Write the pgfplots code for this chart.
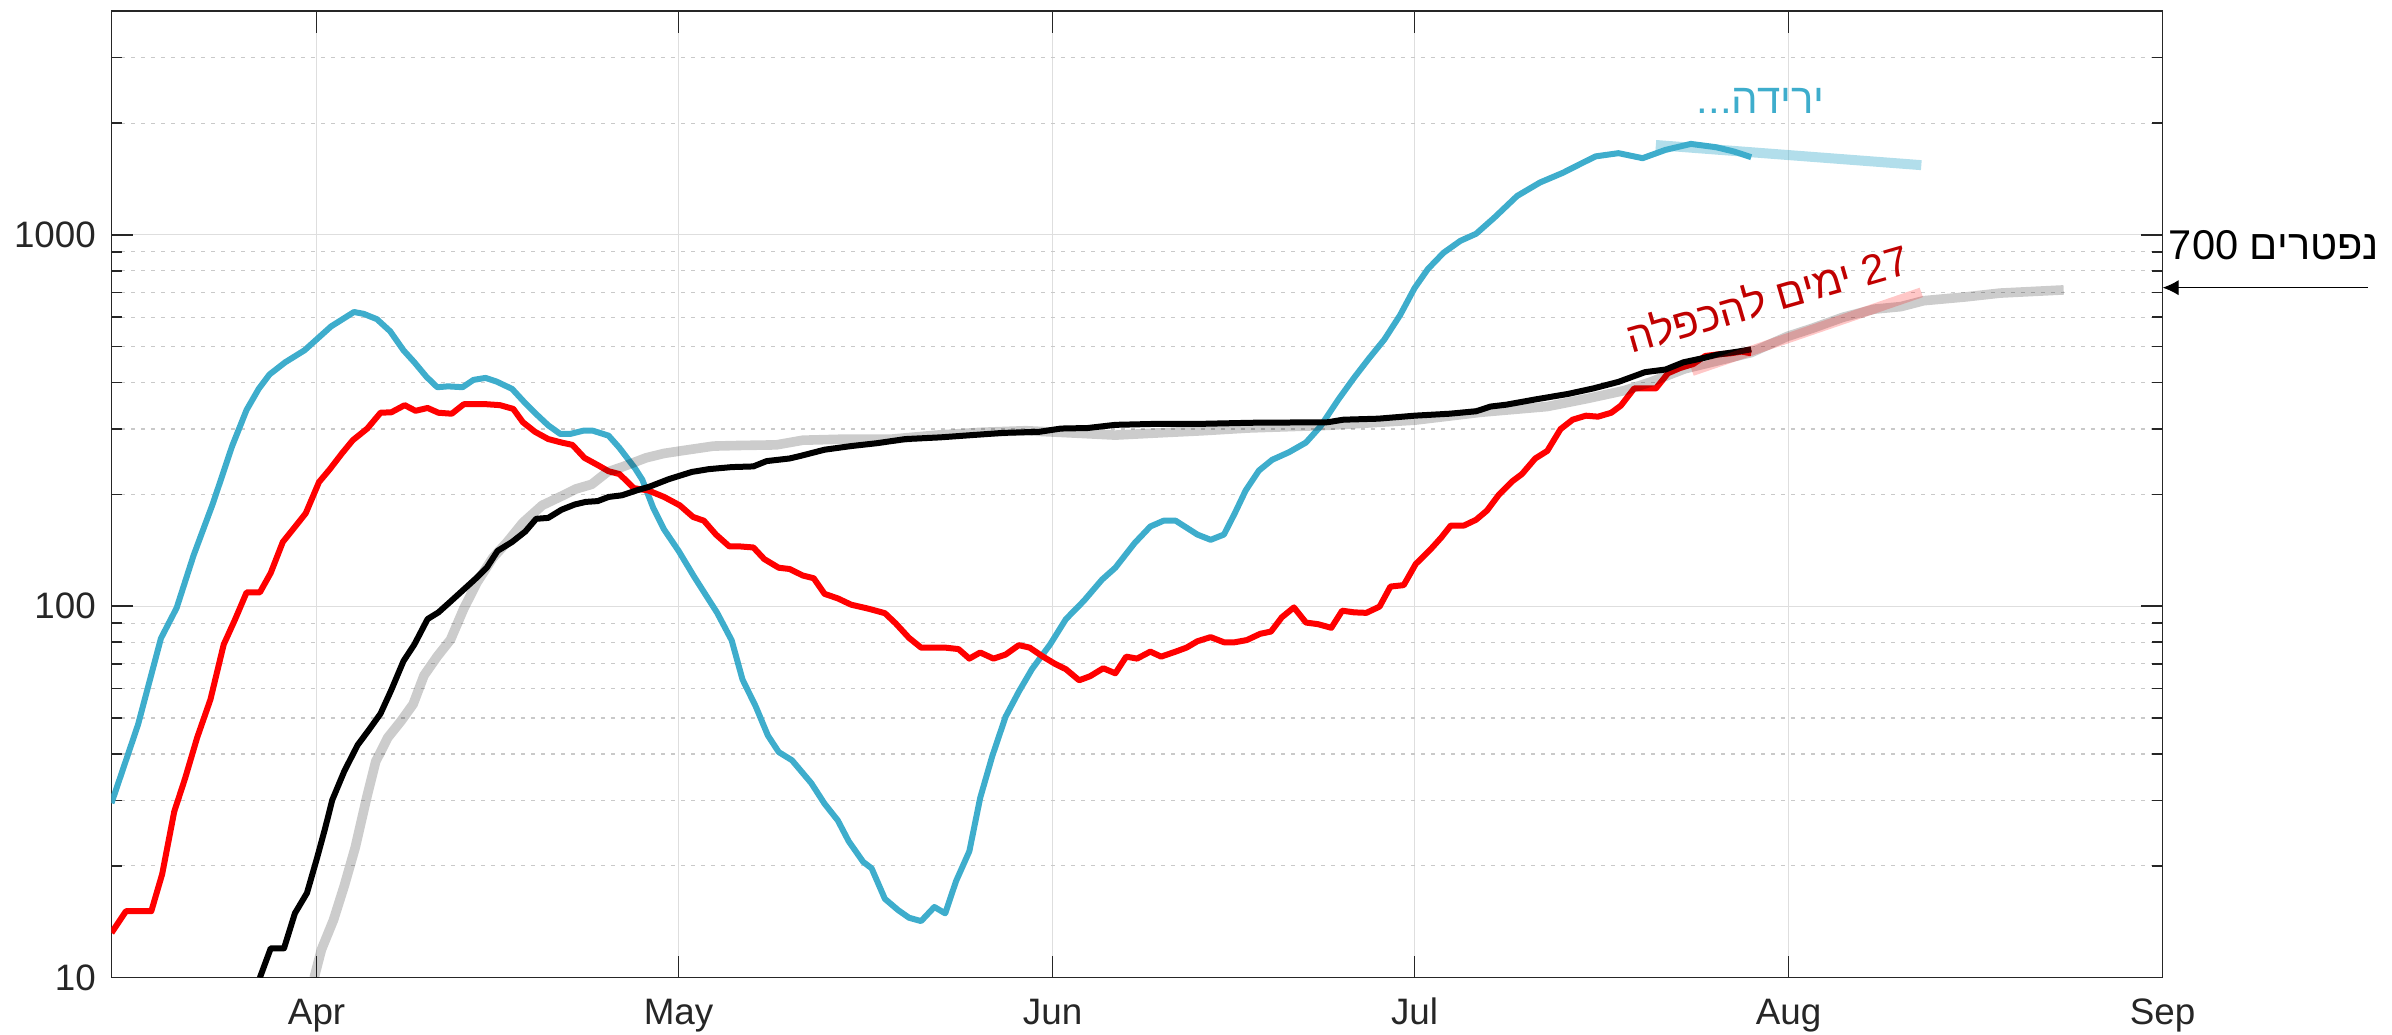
\documentclass[border=0pt]{standalone}
\usepackage{fontspec}
\setmainfont{Liberation Sans}
\newfontfamily\hebfont[Script=Hebrew]{Liberation Sans}
\usepackage{pgfplots}
\pgfplotsset{compat=1.18}
\usetikzlibrary{arrows.meta}
\TeXXeTstate=1
\definecolor{mcyan}{RGB}{62,173,204}
\definecolor{axgray}{RGB}{38,38,38}
\definecolor{dred}{RGB}{192,0,0}
\begin{document}
\begin{tikzpicture}
\begin{axis}[
  scale only axis, width=512.8pt, height=241.6pt,
  xmin=15, xmax=185, ymin=10, ymax=4000, ymode=log,
  xtick={32,62,93,123,154,185},
  xticklabels={Apr,May,Jun,Jul,Aug,Sep},
  ytick={10,100,1000},
  yticklabels={10,100,1000},
  minor ytick={20,30,40,50,60,70,80,90,200,300,400,500,600,700,800,900,2000,3000},
  xmajorgrids, ymajorgrids, yminorgrids,
  major grid style={black!13, line width=0.3pt},
  minor grid style={black!21, line width=0.3pt, dash pattern=on 1pt off 1.5pt},
  tick align=inside,
  xtick pos=both, ytick pos=both,
  xticklabel pos=lower, yticklabel pos=left,
  major tick length=5.4pt, minor tick length=2.7pt,
  every tick/.style={axgray, line width=0.4pt},
  axis line style={axgray, line width=0.4pt},
  tick label style={font=\fontsize{9.2}{11}\selectfont, text=axgray},
  yticklabel style={inner sep=0pt, xshift=-3.7pt},
  xticklabel style={inner sep=0pt, anchor=base, yshift=-11.8pt},
  clip mode=individual,
  /pgf/number format/assume math mode=true,
]
% cyan
\addplot[mcyan, line width=1.5pt, line join=round] coordinates {
(15,29.5) (17.2,48) (19.1,82) (20.4,99) (21.8,137) (23.4,189) (25.0,270) (26.2,338) (27.2,385) (28.1,421) (29.4,454) (31.0,489) (33.2,567) (35.1,620) (35.9,613) (37.0,593) (38.1,550) (39.2,489) (40.1,454) (41.1,415) (42.0,389) (42.9,391) (44.1,389) (45.0,407) (46.0,412) (46.9,403) (48.2,385) (49.2,355) (50.3,327) (51.2,307) (52.2,291) (53.0,291) (54.1,297) (54.9,297) (56.2,288) (57.1,267) (58.4,235) (59.0,219) (59.9,184) (60.8,161) (62.0,141) (63.3,120) (65.2,96) (66.4,81) (67.3,63.5) (68.4,53.7) (69.4,44.9) (70.3,40.5) (71.4,38.5) (73.0,33.4) (74.1,29.4) (75.2,26.5) (76.1,23.3) (77.3,20.5) (78.0,19.7) (79.1,16.3) (80.2,15.2) (81.1,14.5) (82.1,14.2) (83.2,15.5) (84.1,14.9) (85.0,18.2) (86.1,21.9) (87.0,30.5) (88.0,39.5) (89.1,50.4) (90.2,58.9) (91.3,67.8) (92.8,79) (94.1,92.3) (95.6,103.5) (97.1,118) (98.2,127) (99.8,148) (101.1,164) (102.2,170) (103.2,170) (105.0,156) (106.1,151) (107.2,156) (108.1,178) (109.0,205) (110.1,232) (111.2,248) (112.6,260) (114.0,276) (115.2,305) (116.7,361) (118.0,413) (119.2,464) (120.5,523) (121.8,608) (123.0,719) (124.1,809) (125.4,895) (126.8,964) (128.1,1007) (129.6,1112) (131.5,1273) (133.4,1384) (135.3,1470) (136.8,1556) (138.0,1627) (139.9,1660) (141.9,1609) (143.8,1694) (145.9,1758) (148.0,1722) (149.5,1676) (150.9,1619)
};
% red
\addplot[red, line width=1.5pt, line join=round] coordinates {
(15,13.2) (16.2,15.1) (18.3,15.1) (19.2,19.0) (20.2,28.0) (21.1,34.4) (22.1,44.3) (23.2,56.1) (24.3,78.9) (25.2,91.5) (26.2,109) (27.3,109) (28.2,123) (29.2,149) (30.1,162) (31.1,178) (32.2,216) (33.1,234) (34.1,258) (35.0,280) (36.2,301) (37.3,332) (38.2,333) (39.3,348) (40.2,336) (41.2,342) (42.1,332) (43.2,330) (44.2,350) (46.1,350) (47.2,348) (48.3,340) (49.1,313) (50.1,295) (51.2,282) (52.3,276) (53.2,272) (54.2,251) (55.3,240) (56.2,231) (57.1,227) (58.3,208) (59.5,205) (60.8,197) (62.1,187) (63.2,174) (64.1,170) (65.1,156) (66.2,145) (67.0,145) (68.2,144) (69.1,134) (70.3,127) (71.2,126) (72.3,121) (73.2,119) (74.1,108) (75.2,105) (76.3,101) (77.8,98.4) (79.1,95.8) (80.0,89.9) (81.1,82.2) (82.1,77.4) (84.1,77.4) (85.2,76.7) (86.1,72.3) (87.0,75.1) (88.1,72.3) (89.1,74.1) (90.2,78.6) (91.1,77.4) (92.2,73.2) (93.2,70.0) (94.1,67.7) (95.2,63.2) (96.1,64.8) (97.2,68.1) (98.2,66.0) (99.1,73.2) (100.0,72.3) (101.1,75.5) (102.0,73.2) (103.2,75.5) (104.1,77.4) (105.0,80.5) (106.1,82.6) (107.2,80.0) (108.1,80.0) (109.1,81.1) (110.2,84.3) (111.1,85.5) (112.0,93.4) (113.0,99.3) (114.0,90.4) (115.0,89.5) (116.1,87.5) (117.0,97.3) (118.0,96.3) (119.0,96) (120.1,99.8) (121.0,113) (122.1,114) (123.1,130) (124.3,142) (125.2,153) (126.0,165) (127.1,165) (128.1,171) (129.0,181) (130.0,200) (131.1,217) (131.9,227) (133.0,250) (134.0,262) (135.1,300) (136.1,318) (137.2,326) (138.2,324) (139.3,332) (140.1,347) (141.2,386) (143.0,386) (144.0,424) (145.0,438) (146.1,449) (147.1,472) (148.2,477) (149.2,480) (150.1,485) (150.9,480)
};
% gray
\addplot[black, draw opacity=0.2, line width=2.4pt, line join=round] coordinates {
(31.8,10) (32.4,11.9) (33.4,14.3) (34.3,17.7) (35.2,22.4) (36.2,31.0) (36.9,38.2) (37.9,44.3) (39.0,49.1) (40.0,54.5) (40.9,65.1) (42.0,73.3) (43.1,81.3) (44.2,98.6) (45.3,116) (46.6,135) (47.8,149) (49.1,168) (50.7,187) (52.3,198) (53.5,207) (54.8,213) (56.1,230) (57.3,237) (59.3,251) (60.8,258) (62.5,263) (64.9,270) (67,271) (70.1,272) (72.3,280) (76.0,282) (79.7,282) (83.4,289) (87.0,294) (90.8,297) (94.5,293) (98.2,289) (101.8,293) (105.5,297) (109.2,302) (115.8,307) (123.0,317) (128.5,333) (134.0,345) (137.4,363) (140.4,381) (142.5,401) (145.4,436) (148.1,458) (150.9,482) (153.9,533) (156.0,561) (158.5,600) (161.1,631) (163.3,641) (165.2,665) (168.7,681) (171.5,697) (176.8,711)
};
% black
\addplot[black, line width=1.5pt, line join=round] coordinates {
(27.3,10) (28.2,12.0) (29.3,12.0) (30.2,14.9) (31.2,16.9) (32.0,20.8) (32.7,25.2) (33.3,30.1) (34.3,36.0) (35.4,42.3) (36.3,46.3) (37.3,51.4) (38.2,59.6) (39.2,71.2) (40.1,78.9) (41.2,92.4) (42.1,96.3) (43.1,103) (44.2,111) (45.1,118) (46.1,127) (47.0,141) (48.2,149) (49.3,159) (50.2,172) (51.2,173) (52.3,182) (53.4,188) (54.3,191) (55.3,192) (56.2,197) (57.3,199) (58.5,205) (59.6,210) (61.2,220) (63.1,230) (64.5,234) (66.4,237) (68.2,238) (69.3,246) (71.2,250) (72.1,254) (74.1,264) (76.3,270) (78.5,275) (80.8,282) (83.7,285) (86.3,289) (88.9,293) (91.9,295) (93.7,301) (95.9,302) (98.2,308) (101.8,310) (105.5,310) (109.5,312) (115.8,313) (117.1,318) (120.0,320) (123.0,326) (125.9,330) (128.1,335) (129.3,345) (130.6,349) (133.1,361) (135.7,373) (137.8,386) (139.9,402) (142.1,427) (143.8,434) (145.3,454) (146.8,465) (148.1,476) (149.8,485) (150.9,492)
};
% fits
\addplot[mcyan, draw opacity=0.4, line width=2.5pt] coordinates {(143.0,1746) (165.0,1541)};
\addplot[red, draw opacity=0.22, line width=2.5pt] coordinates {(146,430) (165,700)};
% annotations
\node[anchor=base, text=mcyan, font=\fontsize{10.5}{12}\selectfont\hebfont] at (axis cs:151.7,2127) {\beginR ירידה\hbox{...}\endR};
\node[anchor=center, rotate=16, text=dred, font=\fontsize{10.5}{12}\selectfont\hebfont] at (axis cs:152.2,679) {\beginR\beginL 27\endL{} ימים להכפלה\endR};
\node[anchor=base east, inner sep=0pt, text=black, font=\fontsize{10.4}{12}\selectfont\hebfont] at (axis cs:203.0,856) {\beginR נפטרים \beginL 700\endL\endR};
\draw[-{Latex[length=4pt,width=3.8pt]}, line width=0.3pt] (axis cs:202,721) -- (axis cs:185,721);
\end{axis}
\pgfresetboundingbox
\useasboundingbox (-27.875pt,-14.3pt) rectangle (570.15pt,244.425pt);
\end{tikzpicture}
\end{document}
